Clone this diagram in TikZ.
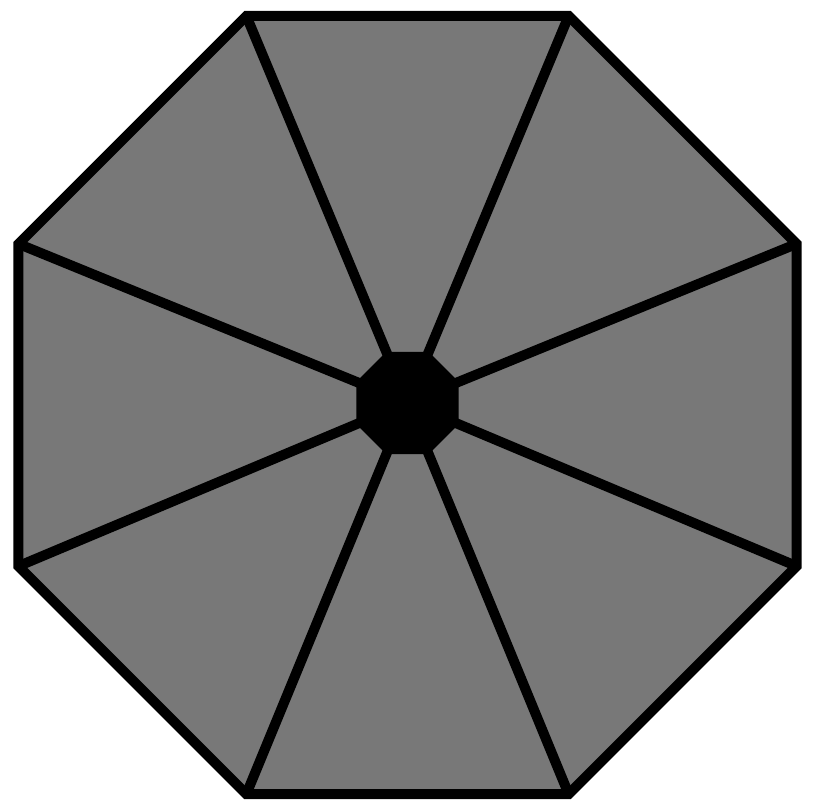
\documentclass[tikz,border=0pt]{standalone}
\usetikzlibrary{shapes.geometric}
\definecolor{panelgray}{RGB}{120,120,120}
\begin{document}
\begin{tikzpicture}[x=0.025cm,y=-0.025cm,
  octo/.style={regular polygon,regular polygon sides=8,draw=black,line width=0.25cm,line join=miter,inner sep=0pt,outer sep=0pt},
  spoke/.style={line width=0.25cm}
]
\useasboundingbox (0,0) rectangle (816,810);
\node[octo,fill=panelgray,minimum size=21.05cm] (rim) at (407.5,405) {};
\node[octo,fill=black,minimum size=2.5cm] (hub) at (407.5,403) {};
\foreach \i in {1,...,8}
  \draw[spoke] (rim.corner \i) -- (hub.corner \i);
\end{tikzpicture}
\end{document}
